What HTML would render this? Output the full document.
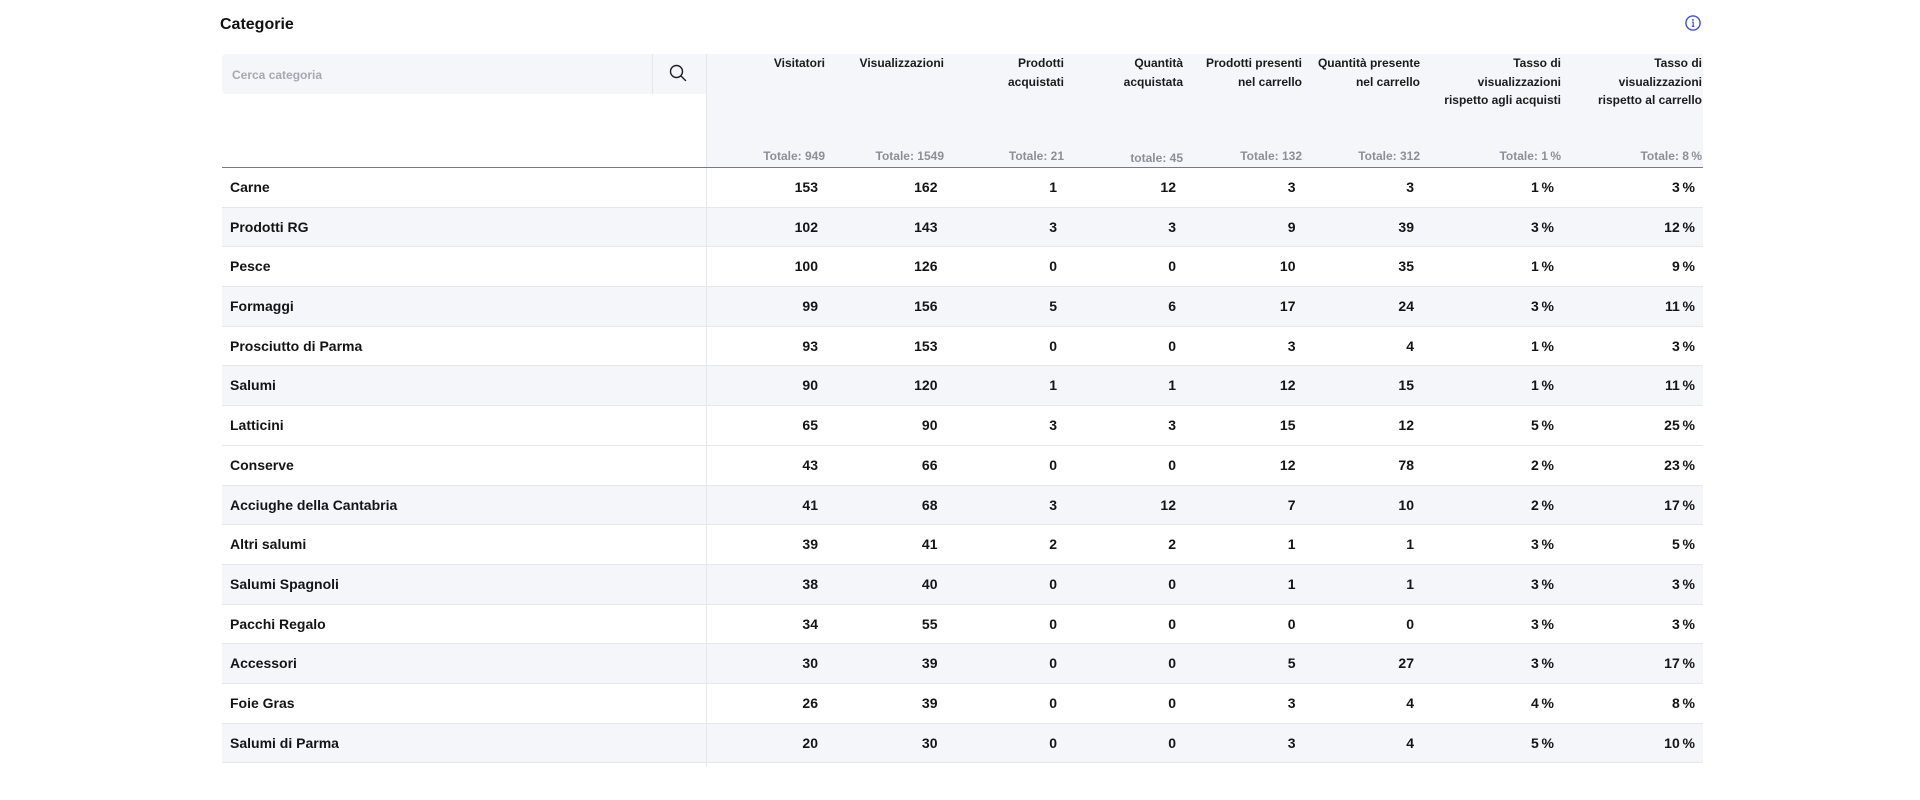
<!DOCTYPE html>
<html><head><meta charset="utf-8">
<style>
*{box-sizing:border-box;margin:0;padding:0}
html,body{width:1920px;height:800px;overflow:hidden;background:#fff;font-family:"Liberation Sans",Arial,sans-serif;color:#151515}
.abs{position:absolute}
.title{left:220px;top:14px;font-size:16px;font-weight:bold;line-height:21px;color:#111}
.search{left:222px;top:54px;width:484px;height:40px;background:#f5f6fa;border-radius:4px 0 0 4px}
.sep{left:652px;top:54px;width:1px;height:40px;background:#e6e7ec}
.ph{left:232px;top:66px;font-size:12px;font-weight:bold;color:#a5a8b1;line-height:18px}
.hbg{left:706px;top:54px;width:997px;height:113px;background:#f5f6fa}
.vline{left:706px;top:54px;width:1px;height:713px;background:#e6e7ec}
.hline{left:222px;top:166.5px;width:1481px;height:1.5px;background:#767a83}
.h{top:54px;font-size:12px;font-weight:bold;line-height:18.5px;text-align:right;width:160px;color:#1b1b1b}
.t{top:147px;font-size:12px;font-weight:bold;line-height:18px;color:#8c8f96;text-align:right;width:160px}
.rows{left:222px;top:168px;width:1481px}
.row{position:relative;height:39.7px;border-bottom:1px solid #e5e7ec}
.row.g{background:#f5f6fa}
.row div{position:absolute;top:0;line-height:38.7px;font-size:14px;font-weight:bold;text-align:right;width:100px;color:#141414}
.row .n{left:8px;text-align:left;width:400px}
.row .a{left:496px}.row .b{left:615.5px}.row .c{left:735px}.row .d{left:854px}
.row .e{left:973.5px}.row .f{left:1092px}.row .p{left:1232px}.row .q{left:1373px}
</style></head>
<body>
<div class="abs title">Categorie</div>
<svg class="abs" style="left:1685px;top:15px" width="16" height="16" viewBox="0 0 16 16">
  <circle cx="8" cy="8" r="7.1" fill="none" stroke="#3d51d4" stroke-width="1.4"/>
  <circle cx="8" cy="4.9" r="0.95" fill="#3d51d4"/>
  <path d="M6.9 7.2H8.2V11.4M6.8 11.4H9.4" fill="none" stroke="#3d51d4" stroke-width="1.2"/>
</svg>

<div class="abs search"></div>
<div class="abs sep"></div>
<div class="abs ph">Cerca categoria</div>
<svg class="abs" style="left:669px;top:64px" width="19" height="19" viewBox="0 0 19 19">
  <circle cx="7.5" cy="7.5" r="6" fill="none" stroke="#1e1e1e" stroke-width="1.4"/>
  <line x1="12" y1="12" x2="16.5" y2="16.5" stroke="#1e1e1e" stroke-width="1.4" stroke-linecap="round"/>
</svg>

<div class="abs hbg"></div>

<div class="abs h" style="left:665px">Visitatori</div>
<div class="abs h" style="left:784px">Visualizzazioni</div>
<div class="abs h" style="left:904px">Prodotti<br>acquistati</div>
<div class="abs h" style="left:1023px">Quantità<br>acquistata</div>
<div class="abs h" style="left:1142px">Prodotti presenti<br>nel carrello</div>
<div class="abs h" style="left:1260px">Quantità presente<br>nel carrello</div>
<div class="abs h" style="left:1401px">Tasso di<br>visualizzazioni<br>rispetto agli acquisti</div>
<div class="abs h" style="left:1542px">Tasso di<br>visualizzazioni<br>rispetto al carrello</div>

<div class="abs t" style="left:665px">Totale: 949</div>
<div class="abs t" style="left:784px">Totale: 1549</div>
<div class="abs t" style="left:904px">Totale: 21</div>
<div class="abs t" style="left:1023px;top:148.5px">totale: 45</div>
<div class="abs t" style="left:1142px">Totale: 132</div>
<div class="abs t" style="left:1260px">Totale: 312</div>
<div class="abs t" style="left:1401px">Totale: 1&thinsp;%</div>
<div class="abs t" style="left:1542px">Totale: 8&thinsp;%</div>

<div class="abs rows">
  <div class="row"><div class="n">Carne</div><div class="a">153</div><div class="b">162</div><div class="c">1</div><div class="d">12</div><div class="e">3</div><div class="f">3</div><div class="p">1&thinsp;%</div><div class="q">3&thinsp;%</div></div>
  <div class="row g"><div class="n">Prodotti RG</div><div class="a">102</div><div class="b">143</div><div class="c">3</div><div class="d">3</div><div class="e">9</div><div class="f">39</div><div class="p">3&thinsp;%</div><div class="q">12&thinsp;%</div></div>
  <div class="row"><div class="n">Pesce</div><div class="a">100</div><div class="b">126</div><div class="c">0</div><div class="d">0</div><div class="e">10</div><div class="f">35</div><div class="p">1&thinsp;%</div><div class="q">9&thinsp;%</div></div>
  <div class="row g"><div class="n">Formaggi</div><div class="a">99</div><div class="b">156</div><div class="c">5</div><div class="d">6</div><div class="e">17</div><div class="f">24</div><div class="p">3&thinsp;%</div><div class="q">11&thinsp;%</div></div>
  <div class="row"><div class="n">Prosciutto di Parma</div><div class="a">93</div><div class="b">153</div><div class="c">0</div><div class="d">0</div><div class="e">3</div><div class="f">4</div><div class="p">1&thinsp;%</div><div class="q">3&thinsp;%</div></div>
  <div class="row g"><div class="n">Salumi</div><div class="a">90</div><div class="b">120</div><div class="c">1</div><div class="d">1</div><div class="e">12</div><div class="f">15</div><div class="p">1&thinsp;%</div><div class="q">11&thinsp;%</div></div>
  <div class="row"><div class="n">Latticini</div><div class="a">65</div><div class="b">90</div><div class="c">3</div><div class="d">3</div><div class="e">15</div><div class="f">12</div><div class="p">5&thinsp;%</div><div class="q">25&thinsp;%</div></div>
  <div class="row"><div class="n">Conserve</div><div class="a">43</div><div class="b">66</div><div class="c">0</div><div class="d">0</div><div class="e">12</div><div class="f">78</div><div class="p">2&thinsp;%</div><div class="q">23&thinsp;%</div></div>
  <div class="row g"><div class="n">Acciughe della Cantabria</div><div class="a">41</div><div class="b">68</div><div class="c">3</div><div class="d">12</div><div class="e">7</div><div class="f">10</div><div class="p">2&thinsp;%</div><div class="q">17&thinsp;%</div></div>
  <div class="row"><div class="n">Altri salumi</div><div class="a">39</div><div class="b">41</div><div class="c">2</div><div class="d">2</div><div class="e">1</div><div class="f">1</div><div class="p">3&thinsp;%</div><div class="q">5&thinsp;%</div></div>
  <div class="row g"><div class="n">Salumi Spagnoli</div><div class="a">38</div><div class="b">40</div><div class="c">0</div><div class="d">0</div><div class="e">1</div><div class="f">1</div><div class="p">3&thinsp;%</div><div class="q">3&thinsp;%</div></div>
  <div class="row"><div class="n">Pacchi Regalo</div><div class="a">34</div><div class="b">55</div><div class="c">0</div><div class="d">0</div><div class="e">0</div><div class="f">0</div><div class="p">3&thinsp;%</div><div class="q">3&thinsp;%</div></div>
  <div class="row g"><div class="n">Accessori</div><div class="a">30</div><div class="b">39</div><div class="c">0</div><div class="d">0</div><div class="e">5</div><div class="f">27</div><div class="p">3&thinsp;%</div><div class="q">17&thinsp;%</div></div>
  <div class="row"><div class="n">Foie Gras</div><div class="a">26</div><div class="b">39</div><div class="c">0</div><div class="d">0</div><div class="e">3</div><div class="f">4</div><div class="p">4&thinsp;%</div><div class="q">8&thinsp;%</div></div>
  <div class="row g"><div class="n">Salumi di Parma</div><div class="a">20</div><div class="b">30</div><div class="c">0</div><div class="d">0</div><div class="e">3</div><div class="f">4</div><div class="p">5&thinsp;%</div><div class="q">10&thinsp;%</div></div>
</div>

<div class="abs vline"></div>
<div class="abs hline"></div>
</body></html>
